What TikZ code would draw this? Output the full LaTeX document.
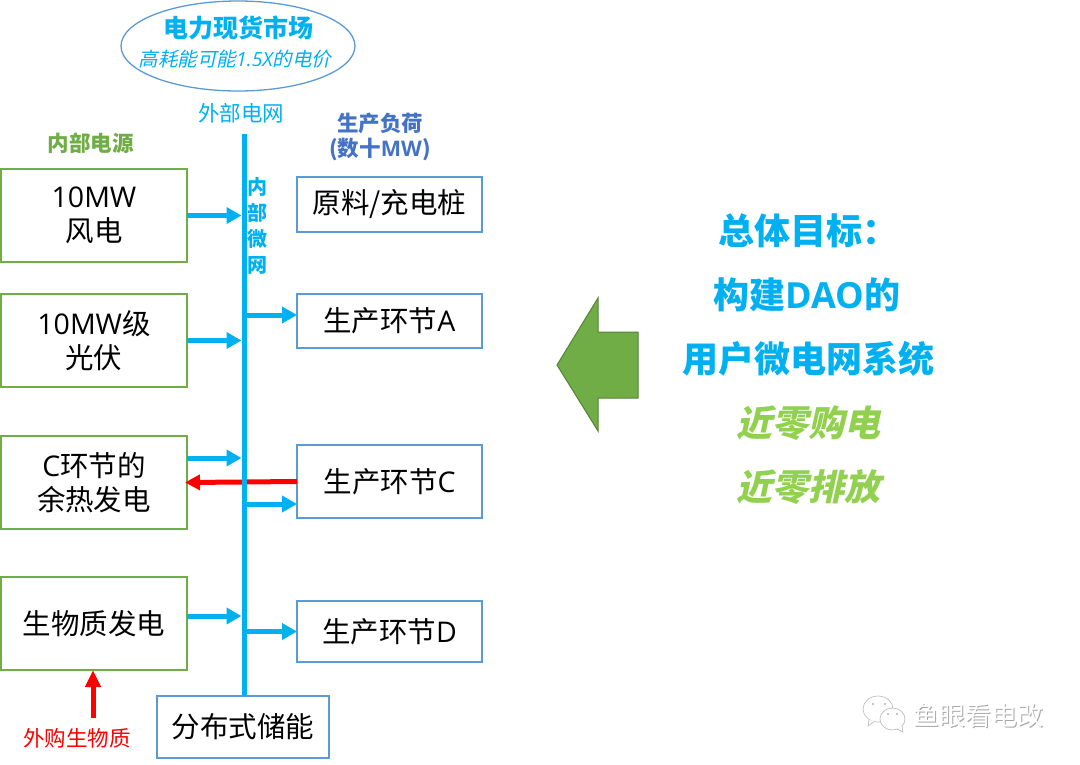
\documentclass[tikz,border=0pt]{standalone}
\usepackage{fontspec}
\usepackage{xcolor}
\usetikzlibrary{arrows.meta,shapes.geometric}
\setmainfont{Noto Sans CJK SC}
\newfontfamily\slantfont[FakeSlant=0.22]{Noto Sans CJK SC}
\newfontfamily\latinfont{Open Sans}
\definecolor{Bus}{HTML}{00B0F0}
\definecolor{Leaf}{HTML}{70AD47}
\definecolor{Lime}{HTML}{92D050}
\definecolor{Sky}{HTML}{5B9BD5}
\definecolor{Royal}{HTML}{4472C4}
\definecolor{Hot}{HTML}{FF0000}
\newcommand{\fs}[1]{\fontsize{#1}{#1}\selectfont}
\newcommand{\la}[1]{{\latinfont #1}}
\tikzset{
 source/.style={draw=Leaf, line width=1.3pt, fill=white, minimum width=186pt, minimum height=93pt, align=center, inner sep=0pt, outer sep=0pt, font=\fs{28.5}},
 load/.style={draw=Sky, line width=1.3pt, fill=white, minimum width=185pt, align=center, inner sep=0pt, outer sep=0pt, font=\fs{28.5}},
 feed/.style={-{Triangle[length=15pt,width=16pt]}, line width=5pt, draw=Bus},
 backfeed/.style={-{Triangle[length=15pt,width=15pt]}, line width=5pt, draw=Hot, shorten >=-2pt},
 goal/.style={font=\fs{36}\bfseries, text=Bus, inner sep=0pt},
 subgoal/.style={font=\fs{36}\bfseries\slantfont, text=Lime, inner sep=0pt},
 tag/.style={font=\fs{21.5}, inner sep=0pt, align=center}
}
\begin{document}
\begin{tikzpicture}[x=1pt,y=-1pt]
\useasboundingbox (0,0) rectangle (1080,764);
% market
\node[draw=Sky, line width=1.3pt, ellipse, minimum width=234pt, minimum height=90pt, inner sep=0pt] (market) at (238,46) {};
\node[tag, text=Bus, font=\fs{25}\bfseries] (markettitle) at (238,28) {电力现货市场};
\node[tag, text=Bus, font=\fs{19.5}\slantfont] (marketnote) at (235,59) {高耗能可能\la{\itshape 1.5X}的电价};
% headings
\node[tag, text=Bus] (grid) at (241,113) {外部电网};
\node[tag, text=Leaf, font=\fs{21.5}\bfseries] (srchead) at (90.5,143) {内部电源};
\node[tag, text=Royal, font=\fs{21.5}\bfseries] (loadhead) at (380,137) {生产负荷\\[4pt](数十\la{MW})};
% sources
\node[source] (wind) at (94,215.5) {\la{10MW}\\[6pt]风电};
\node[source] (solar) at (94,340.5) {\la{10MW}级\\[6pt]光伏};
\node[source] (heat) at (94,482.5) {\la{C}环节的\\[6pt]余热发电};
\node[source] (bio) at (94,623.5) {生物质发电};
% loads
\node[load, minimum height=55pt] (charge) at (389.5,204.5) {原料/充电桩};
\node[load, minimum height=54pt] (lineA) at (389.5,321) {生产环节\la{A}};
\node[load, minimum height=73pt] (lineC) at (389.5,481.5) {生产环节\la{C}};
\node[load, minimum height=61pt] (lineD) at (389.5,631.5) {生产环节\la{D}};
\node[load, minimum width=172pt, minimum height=62pt] (store) at (243,727) {分布式储能};
\node[tag, text=Hot] (buybio) at (77,738) {外购生物质};
% red link goes under the bus
\draw[backfeed] (lineC.west) -- (heat.east);
\node[fill=Bus, minimum width=5pt, minimum height=562pt, inner sep=0pt, outer sep=0pt] (bus) at (244,415) {};
\node[tag, text=Bus, font=\fs{20}\bfseries] (micro) at (257,226) {内\\[6pt]部\\[6pt]微\\[6pt]网};
% feeders
\draw[feed] (wind.east) -- (wind.east -| bus.west);
\draw[feed] (solar.east) -- (solar.east -| bus.west);
\draw[feed] ([yshift=24.5pt]heat.east) -- ([yshift=24.5pt]heat.east -| bus.west);
\draw[feed] ([yshift=7.5pt]bio.east) -- ([yshift=7.5pt]bio.east -| bus.west);
\draw[feed] ([yshift=6pt]lineA.west -| bus.center) -- ([yshift=6pt]lineA.west);
\draw[feed] ([yshift=-22.5pt]lineC.west -| bus.center) -- ([yshift=-22.5pt]lineC.west);
\draw[feed] (lineD.west -| bus.center) -- (lineD.west);
\draw[-{Triangle[length=17pt,width=15pt]}, line width=5pt, draw=Hot] (93,718) -- (bio.south -| 93,0);
% goal side
\draw[draw=Leaf!75!black, fill=Leaf, line width=1pt] (557,365) -- (598,298) -- (598,332) -- (638,332) -- (638,398) -- (598,398) -- (598,431) -- cycle;
\node[goal] (goal1) at (808,231) {总体目标：};
\node[goal] (goal2) at (807,295) {构建\la{DAO}的};
\node[goal] (goal3) at (808,359) {用户微电网系统};
\node[subgoal] (goal4) at (808,423) {近零购电};
\node[subgoal] (goal5) at (808,487) {近零排放};
% watermark
\draw[black!25, fill=white, line width=.7pt] (878,709) ellipse (15pt and 13pt);
\draw[black!25, fill=white, line width=.7pt] (869,720) -- (868,726) -- (875,721);
\draw[black!25, fill=white, line width=.7pt] (892.5,719) ellipse (12.5pt and 11pt);
\draw[black!25, fill=white, line width=.7pt] (897,729) -- (903,732) -- (902,726);
\foreach \dx/\dy in {873/704, 885/704, 888/714, 897/714}
  \fill[black!30] (\dx,\dy) circle (1.2pt);
\node[font=\fs{26}, text=black!35, inner sep=0pt] (mark) at (979,716.5) {鱼眼看电改};
\node[font=\fs{26}, text=white, inner sep=0pt] (markup) at (978,715.5) {鱼眼看电改};
\end{tikzpicture}
\end{document}
